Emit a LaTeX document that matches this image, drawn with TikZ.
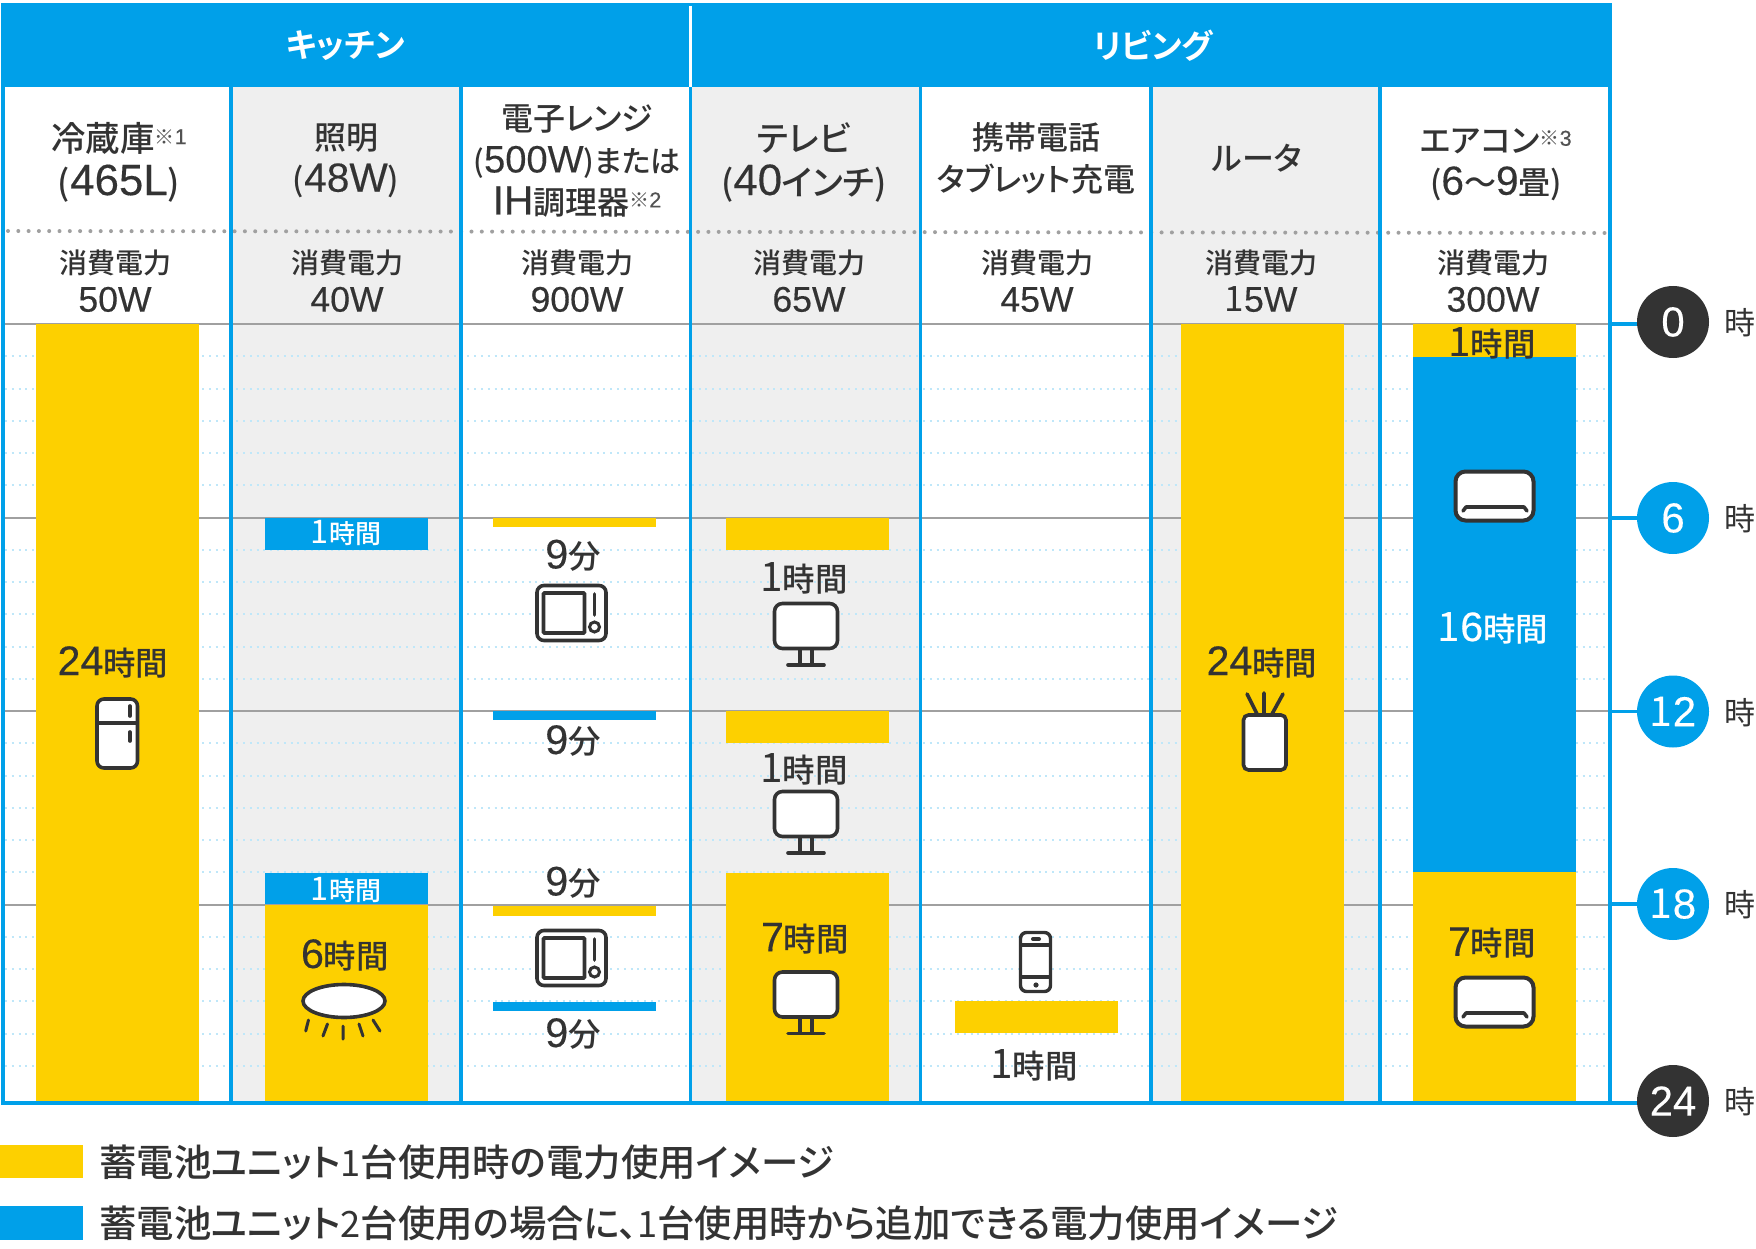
\documentclass[tikz,border=0pt]{standalone}
\usepackage{fontspec}
\setmainfont{Noto Sans CJK JP}[RawFeature={+palt}]
\newfontfamily\jpmed{Noto Sans CJK JP Medium}[RawFeature={+palt}]
\newfontfamily\jpheavy{Noto Sans CJK JP Bold}[RawFeature={+palt}]
\newfontfamily\ltfont{Liberation Sans}[Scale=1.27,FakeBold=0.3]
\newfontfamily\onefont{Noto Sans CJK JP}[Scale=1.25]
\newcommand{\ltn}[1]{{\ltfont #1}}
\newcommand{\onen}{{\onefont 1}}
\newcommand{\noteref}[1]{\raisebox{7pt}{\fontsize{20}{20}\selectfont\color{inkdark!85}\normalfont ※{\ltfont\fontsize{17}{17}\selectfont #1}}}
\definecolor{skyblue}{HTML}{00A0E9}
\definecolor{barblue}{HTML}{00A0E9}
\definecolor{baryellow}{HTML}{FDD000}
\definecolor{inkdark}{HTML}{333333}
\definecolor{cellgray}{HTML}{EFEFEF}
\definecolor{hourgray}{HTML}{A0A0A0}
\definecolor{rowdot}{HTML}{BFE7F9}
\tikzset{
  icon/.style={draw=inkdark,line width=3.6pt,fill=white,rounded corners=#1},
  iconline/.style={draw=inkdark,line width=3.6pt,line cap=round},
  tvicon/.pic={
    \draw[iconline,line cap=butt] (27,46) -- (27,62) (39,46) -- (39,62);
    \draw[iconline] (15,63) -- (51,63);
    \draw[icon=8pt] (1.5,1.5) rectangle (64.5,46.5);
  },
  ovenicon/.pic={
    \draw[icon=7pt] (1.5,1.5) rectangle (70.5,56.5);
    \draw[draw=inkdark,line width=3.6pt,rounded corners=1pt] (8,9) rectangle (49,49);
    \draw[iconline] (59,10) -- (59,31);
    \draw[draw=inkdark,line width=3pt] (59,43) circle (5);
  },
  aircon/.pic={
    \draw[icon=10pt,line width=4pt] (1.5,1.5) rectangle (79.5,50.5);
    \draw[iconline,line join=round] (9,41) -- (12,37) -- (70,37) -- (73,41);
  }
}
\begin{document}
\begin{tikzpicture}[x=1pt,y=-1pt,
  lab/.style={inner sep=0pt,text=inkdark,align=center,font=\jpmed\fontsize{28}{38}\selectfont},
  titlelab/.style={lab,font=\jpmed\fontsize{32}{42}\selectfont},
  bigtitle/.style={lab,font=\jpmed\fontsize{34.5}{44}\selectfont},
  barlab/.style={lab,font=\jpmed\fontsize{32.5}{32}\selectfont},
  smalllab/.style={lab,text=white,font=\jpmed\fontsize{26}{26}\selectfont},
  headlab/.style={lab,text=white,font=\jpheavy\fontsize{33}{32}\selectfont},
  legendlab/.style={lab,anchor=west,font=\jpmed\fontsize{37.4}{36}\selectfont},
  hourdot/.style={circle,minimum size=72pt,inner sep=0pt,text=white,font=\fontsize{33}{33}\selectfont},
  hourlab/.style={inner sep=0pt,text=inkdark,font=\fontsize{31}{31}\selectfont}]
\useasboundingbox (0,0) rectangle (1756,1249);
\fill[white] (0,0) rectangle (1756,1249);
\foreach \xa/\xb in {231/461,690/920,1151/1380}
  \fill[cellgray] (\xa,87) rectangle (\xb,1103);
\foreach \h in {1,...,23}
  \draw[rowdot,line width=2pt,dash pattern=on 2pt off 4.8pt] (5,{324+32.25*\h}) -- (1606,{324+32.25*\h});
\foreach \y in {324,517.5,711,904.5}
  \draw[hourgray,line width=2pt] (4,\y) -- (1608,\y);
\foreach \xa/\ya/\yb/\colr in {
  36/324/1103/baryellow,
  265/518/550/barblue,265/873/904/barblue,265/905/1103/baryellow,
  493/518/527/baryellow,493/711/720/barblue,493/906/916/baryellow,493/1002/1011/barblue,
  725.5/518/550/baryellow,725.5/711/743/baryellow,725.5/872.5/1103/baryellow,
  955/1000.5/1033/baryellow,
  1181/324/1103/baryellow,
  1413/324/356.5/baryellow,1413/356.5/872/barblue,1413/872/1103/baryellow}
  \fill[\colr] (\xa,\ya) rectangle ++(163,\yb-\ya);
\draw[hourgray,line width=4pt,line cap=round,dash pattern=on 0pt off 10.3pt] (8,231) -- (1606,233);
\foreach \x in {3,231,461,690.5,920.5,1151,1380,1610}
  \draw[skyblue,line width=3.6pt] (\x,87) -- (\x,1103);
\fill[skyblue] (1,3) rectangle (1612,87);
\draw[white,line width=3pt] (690,6) -- (690,87);
\draw[skyblue,line width=4pt] (1,1103) -- (1612,1103);

\node[headlab] (kitchen) at (346,46) {キッチン};
\node[headlab] (living) at (1153,46) {リビング};

\node[bigtitle] (fridge) at (119,162) {冷蔵庫\noteref{1}\\(\ltn{465L})};
\node[titlelab] (light) at (346,161) {照明\\(\ltn{48W})};
\node[titlelab] (oven) at (577,161) {電子レンジ\\{\fontsize{30}{42}\selectfont(\ltn{500W})または}\\\ltn{IH}調理器\noteref{2}};
\node[bigtitle] (tv) at (804,162) {テレビ\\(\ltn{40}インチ)};
\node[titlelab] (phone) at (1036,158) {携帯電話\\タブレット充電};
\node[titlelab] (router) at (1257,158) {ルータ};
\node[titlelab] (ac) at (1496,165) {エアコン\noteref{3}\\(\ltn{6}〜\ltn{9}畳)};

\node[lab] (pfridge) at (115,281) {消費電力\\\ltn{50W}};
\node[lab] (plight) at (347,281) {消費電力\\\ltn{40W}};
\node[lab] (poven) at (577,281) {消費電力\\\ltn{900W}};
\node[lab] (ptv) at (809,281) {消費電力\\\ltn{65W}};
\node[lab] (pphone) at (1037,281) {消費電力\\\ltn{45W}};
\node[lab] (prouter) at (1261,281) {消費電力\\\onen\ltn{5W}};
\node[lab] (pac) at (1493,281) {消費電力\\\ltn{300W}};

\node[barlab] (fridgetime) at (113,662) {\ltn{24}時間};
\draw[icon=7pt] (97,699) rectangle (137.5,768);
\draw[iconline,line cap=butt] (96,723) -- (139,723);
\draw[iconline] (130,706) -- (130,716) (130,732) -- (130,741);

\node[smalllab] (lighta) at (346,533) {\onen 時間};
\node[smalllab] (lightb) at (346,890) {\onen 時間};
\node[barlab] (lightc) at (345,955) {\ltn{6}時間};
\draw[icon=0pt] (344,1001) ellipse (41 and 16.5);
\draw[iconline,line width=3pt] (308.5,1020) -- (305.7,1031) (327.5,1024) -- (323,1036) (343,1026) -- (343,1039)
  (359,1024) -- (363,1036) (373,1020) -- (380,1031);

\node[barlab] (ovena) at (573,555.5) {\ltn{9}分};
\pic at (535.5,584) {ovenicon};
\node[barlab] (ovenb) at (573,741) {\ltn{9}分};
\node[barlab] (ovenc) at (573,882.5) {\ltn{9}分};
\pic at (535.5,929) {ovenicon};
\node[barlab] (ovend) at (573,1034) {\ltn{9}分};

\node[barlab] (tva) at (804,578) {\onen 時間};
\pic at (773,602) {tvicon};
\node[barlab] (tvb) at (804,769.5) {\onen 時間};
\pic at (773,790) {tvicon};
\node[barlab] (tvc) at (805,938.5) {\ltn{7}時間};
\pic at (773,970.5) {tvicon};

\draw[icon=6pt,line width=3.4pt] (1020.5,932.5) rectangle (1050.5,991.5);
\draw[iconline,line width=3.4pt,line cap=butt] (1020,945) -- (1051,945) (1020,977) -- (1051,977);
\draw[iconline,line width=4pt] (1033,939) -- (1039,939);
\fill[inkdark] (1036,985) circle (2.6);
\node[barlab] (phonetime) at (1034,1065) {\onen 時間};

\node[barlab] (routertime) at (1262,662) {\ltn{24}時間};
\draw[iconline] (1247,694) -- (1257,714) (1264,693) -- (1264,714) (1283,694) -- (1272,714);
\draw[icon=5pt] (1243.5,715) rectangle (1286,770);

\node[barlab] (aca) at (1492,343) {\onen 時間};
\pic at (1454,470) {aircon};
\node[barlab,text=white] (acb) at (1493,628) {\onen\ltn{6}時間};
\node[barlab] (acc) at (1492,943) {\ltn{7}時間};
\pic at (1454,976) {aircon};

\foreach \h/\txt/\y/\ln/\colr in {0/\ltn{0}/322/324/inkdark,6/\ltn{6}/518/518/skyblue,12/\onen\ltn{2}/711.5/711.5/skyblue,
    18/\onen\ltn{8}/904/904/skyblue,24/\ltn{24}/1101/1103/inkdark}{
  \coordinate (f\h) at (1610,\ln);
  \node[hourdot,fill=\colr] (t\h) at (1673,\y) {\txt};
  \node[hourlab] (u\h) at (1739.5,\y+1) {時};
  \draw[skyblue,line width=3.6pt] (f\h) -- (f\h -| t\h.west);
}

\fill[baryellow] (0,1145) rectangle (83,1178);
\fill[barblue] (0,1206) rectangle (83,1240);
\node[legendlab] (legenda) at (99,1162) {蓄電池ユニット{\onefont\fontsize{29}{29}\selectfont 1}台使用時の電力使用イメージ};
\node[legendlab] (legendb) at (99,1223.5) {蓄電池ユニット{\onefont\fontsize{29}{29}\selectfont 2}台使用の場合に、{\onefont\fontsize{29}{29}\selectfont 1}台使用時から追加できる電力使用イメージ};
\end{tikzpicture}
\end{document}
